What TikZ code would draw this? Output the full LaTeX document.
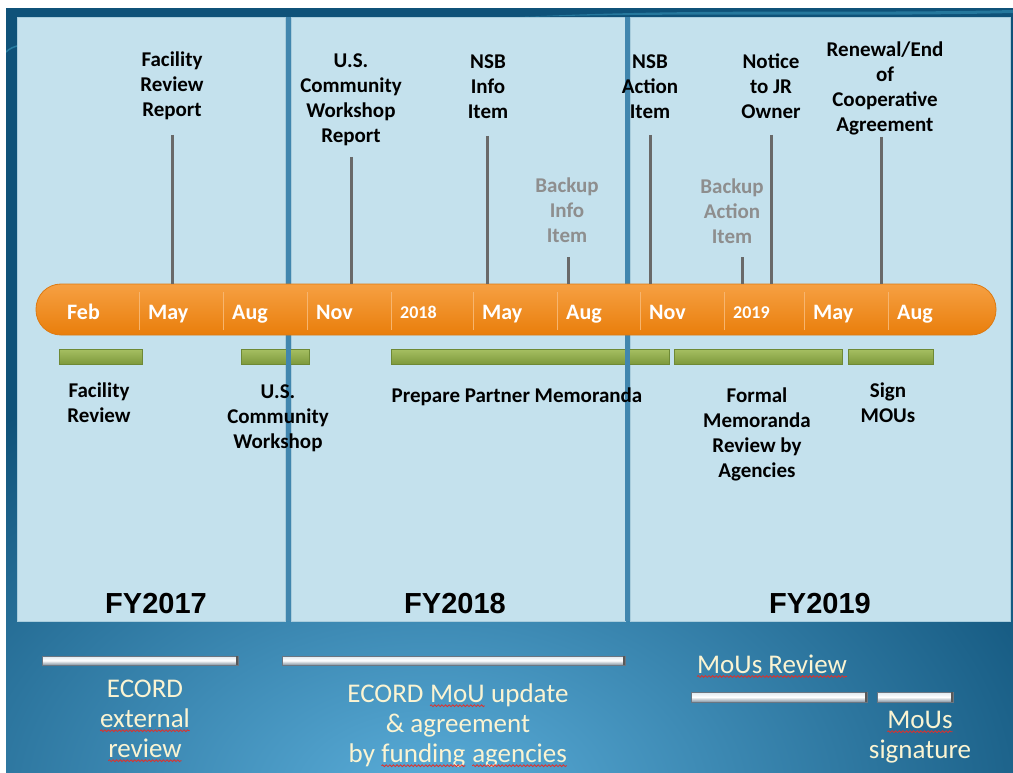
\documentclass[tikz,border=0pt]{standalone}
\usepackage{fontspec}
\setmainfont{Carlito}
\newfontfamily\arialfont{Liberation Sans}
\usetikzlibrary{decorations.pathmorphing}
\definecolor{bgdark}{HTML}{0F5279}
\definecolor{bglight}{HTML}{5BAEDA}
\definecolor{panelblue}{HTML}{C4E1ED}
\definecolor{paneledge}{HTML}{A9CDDD}
\definecolor{sepblue}{HTML}{4186AE}
\definecolor{orangetop}{HTML}{F6A043}
\definecolor{orangebot}{HTML}{E97E0B}
\definecolor{orangeedge}{HTML}{DD7A12}
\definecolor{greentop}{HTML}{A6BF62}
\definecolor{greenbot}{HTML}{7E9A3D}
\definecolor{greenedge}{HTML}{6E8935}
\definecolor{stemgrey}{HTML}{696969}
\definecolor{backupgrey}{HTML}{8E8E8E}
\definecolor{cream}{HTML}{FBF4D2}
\definecolor{tickline}{HTML}{F7B56E}
\definecolor{squigred}{HTML}{E0302A}
\definecolor{silvertop}{HTML}{DDE7EE}
\definecolor{silverbot}{HTML}{8494A2}
\definecolor{swoosh}{HTML}{3FA6C8}
\newcommand\squig[1]{\tikz[baseline=(sq.base)]{\node[inner sep=0pt,outer sep=0pt,anchor=base,draw=none,fill=none](sq) at (0,0){#1};\draw[squigred,line width=0.8pt,decorate,decoration={snake,amplitude=0.9pt,segment length=3.6pt}]([yshift=-3.5pt]sq.base west) -- ([yshift=-3.5pt]sq.base east);}}
\newcommand\fl{\rule{0pt}{17pt}}
\newcommand\flb{\rule{0pt}{20pt}}
\begin{document}
\begin{tikzpicture}[x=1pt,y=-1pt,
  panelbox/.style={fill=panelblue,draw=paneledge,line width=0.8pt},
  sepline/.style={sepblue,line width=5pt},
  barshape/.style={rectangle,rounded corners=25pt,minimum width=960pt,minimum height=51pt,
    top color=orangetop,bottom color=orangebot,draw=orangeedge,line width=0.8pt,inner sep=0pt},
  tickln/.style={tickline,line width=0.9pt},
  monthlbl/.style={font=\fontsize{22}{24}\selectfont\bfseries,text=white,inner sep=0pt,anchor=base west},
  yearlbl/.style={font=\fontsize{18}{20}\selectfont\bfseries,text=white,inner sep=0pt,anchor=base west},
  evtext/.style={font=\fontsize{21}{25}\selectfont\bfseries,align=center,anchor=north,inner sep=0pt,text=black},
  backuptext/.style={evtext,text=backupgrey},
  stem/.style={stemgrey,line width=3pt},
  greenbar/.style={top color=greentop,bottom color=greenbot,draw=greenedge,line width=0.6pt},
  fylbl/.style={font=\arialfont\fontsize{29}{32}\selectfont\bfseries,anchor=base,inner sep=0pt,text=black},
  silverbar/.style={top color=silvertop,bottom color=silverbot,middle color=white,draw=silverbot!80!black,line width=0.5pt},
  bottext/.style={font=\fontsize{27}{30}\selectfont,align=center,anchor=north,inner sep=0pt,text=cream}]
\useasboundingbox (0,0) rectangle (1013,773);
\fill[white] (0,0) rectangle (1013,773);
% background
\fill[bgdark] (6,8) rectangle (1013,773);
\begin{scope}
  \clip (6,8) rectangle (1013,773);
  \shade[inner color=bglight,outer color=bgdark] (430,800) ellipse [x radius=720, y radius=470];
  \fill[swoosh!45!bgdark] (520,17) .. controls (700,8) and (850,14) .. (1013,10) -- (1013,13) .. controls (850,17) and (700,12) .. (520,17) -- cycle;
  \draw[swoosh!50!bgdark,line width=1.5pt] (6,52) .. controls (10,48) and (14,47) .. (17,46);
\end{scope}
% panels
\draw[panelbox] (17,17) rectangle (285,621);
\draw[panelbox] (291,17) rectangle (625,621);
\draw[panelbox] (630,17) rectangle (1010,621);
% green bars
\draw[greenbar] (59,349) rectangle (142,364);
\draw[greenbar] (241,349) rectangle (309,364);
\draw[greenbar] (391,349) rectangle (669,364);
\draw[greenbar] (674,349) rectangle (842,364);
\draw[greenbar] (848,349) rectangle (933,364);
% separators
\draw[sepline] (288,17) -- (288,621);
\draw[sepline] (627.5,17) -- (627.5,621);
% orange timeline bar
\node[barshape] (bar) at (516,309.5) {};
\foreach \tx in {139,223,307,391,473,557,640,724,804,888}
  \draw[tickln] (\tx,292) -- (\tx,330);
\node[monthlbl] (mfeb) at (67,319) {Feb};
\node[monthlbl] (mmay1) at (148,319) {May};
\node[monthlbl] (maug1) at (232,319) {Aug};
\node[monthlbl] (mnov1) at (316,319) {Nov};
\node[yearlbl] (y2018) at (400,318) {2018};
\node[monthlbl] (mmay2) at (482,319) {May};
\node[monthlbl] (maug2) at (566,319) {Aug};
\node[monthlbl] (mnov2) at (649,319) {Nov};
\node[yearlbl] (y2019) at (733,318) {2019};
\node[monthlbl] (mmay3) at (813,319) {May};
\node[monthlbl] (maug3) at (897,319) {Aug};
% event labels
\node[evtext] (frr) at (172,49) {\fl Facility\\Review\\Report};
\node[evtext] (uscwr) at (351,50) {\fl U.S.\\Community\\Workshop\\Report};
\node[evtext] (nsbinfo) at (488,51) {\fl NSB\\Info\\Item};
\node[backuptext] (bkinfo) at (567,175) {\fl Backup\\Info\\Item};
\node[evtext] (nsbact) at (650,51) {\fl NSB\\Action\\Item};
\node[backuptext] (bkact) at (732,176) {\fl Backup\\Action\\Item};
\node[evtext] (notice) at (771,51) {\fl Notice\\to JR\\Owner};
\node[evtext] (renew) at (885,39) {\fl Renewal/End\\of\\Cooperative\\Agreement};
% stems
\coordinate (s1) at (172,135);
\coordinate (s2) at (351,157);
\coordinate (s3) at (487,136);
\coordinate (s4) at (568,257);
\coordinate (s5) at (650,135);
\coordinate (s6) at (742,257);
\coordinate (s7) at (771,135);
\coordinate (s8) at (881,137);
\foreach \s in {s1,s2,s3,s4,s5,s6,s7,s8}
  \draw[stem] (\s) -- (\s |- bar.north);
% lower labels
\node[evtext] (facrev) at (99,380) {\fl Facility\\Review};
\node[evtext] (uscw) at (278,381) {\fl U.S.\\Community\\Workshop};
\node[evtext] (ppm) at (517,385) {\fl Prepare Partner Memoranda};
\node[evtext] (fmra) at (757,385) {\fl Formal\\Memoranda\\Review by\\Agencies};
\node[evtext] (signm) at (888,380) {\fl Sign\\MOUs};
% fiscal years
\node[fylbl] (fy17) at (156,613) {FY2017};
\node[fylbl] (fy18) at (455,613) {FY2018};
\node[fylbl] (fy19) at (820,613) {FY2019};
% silver bars
\shade[silverbar] (42,656) rectangle (238,665);
\shade[silverbar] (282,656) rectangle (625,665);
\shade[silverbar] (691,692) rectangle (867,702);
\shade[silverbar] (877,692) rectangle (953,702);
\fill[black!65] (236,656) rectangle (238,665);
\fill[black!65] (623,656) rectangle (625,665);
\fill[black!65] (865,692) rectangle (867,702);
\fill[black!65] (951,692) rectangle (953,702);
% bottom texts
\node[bottext] (ecordext) at (145,677) {\flb ECORD\\\squig{external}\\\squig{review}};
\node[bottext] (ecordmou) at (458,682) {\flb ECORD \squig{MoU} update\\\& agreement\\by \squig{funding} \squig{agencies}};
\node[bottext,anchor=base] (mousrev) at (772,673) {\squig{MoUs Review}};
\node[bottext] (mousig) at (920,708) {\flb\squig{MoUs}\\signature};
\end{tikzpicture}
\end{document}
